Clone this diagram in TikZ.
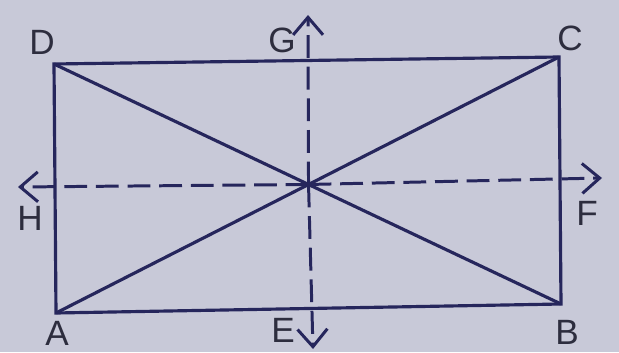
\documentclass[tikz,border=0pt]{standalone}
\usepackage{fontspec}
\setmainfont{Liberation Sans}
\usepackage{tikz}
\usetikzlibrary{arrows.meta,calc}
\usetikzlibrary{positioning}
\usepackage{xcolor}
\definecolor{papel}{RGB}{200,201,216}
\definecolor{tinta}{RGB}{38,38,92}
\definecolor{letra}{RGB}{45,45,62}

\begin{document}
\begin{tikzpicture}[
    >={Straight Barb[length=10pt,width=17pt]},
    lado/.style={draw=tinta, line width=1.8pt, line join=miter},
    eixo/.style={draw=tinta, line width=1.7pt, ->, dash pattern=on 13pt off 5pt},
    rotulo/.style={text=letra, font=\fontsize{20}{20}\selectfont, inner sep=0pt}
  ]

  % ── fundo ───────────────────────────────────────────────────────
  \fill[papel] (0,0) rectangle (12.38,7.04);
  \useasboundingbox (0,0) rectangle (12.38,7.04);

  % ── vértices do retângulo ───────────────────────────────────────
  \coordinate (A) at (1.12, 0.78);
  \coordinate (B) at (11.22, 0.96);
  \coordinate (C) at (11.18, 5.90);
  \coordinate (D) at (1.08, 5.76);
  \coordinate (O) at (intersection of A--C and B--D);

  % ── pontas dos eixos ────────────────────────────────────────────
  \coordinate (Gp) at (6.16, 6.74);
  \coordinate (Ep) at (6.26, 0.06);
  \coordinate (Hp) at (0.36, 3.30);
  \coordinate (Fp) at (12.04, 3.48);

  % ── retângulo e diagonais ───────────────────────────────────────
  \draw[lado] (A) -- (B) -- (C) -- (D) -- cycle;
  \draw[lado] (A) -- (C);
  \draw[lado] (B) -- (D);

  % ── eixos de simetria ───────────────────────────────────────────
  \draw[eixo] (O) -- (Gp);
  \draw[eixo] (O) -- (Ep);
  \draw[eixo] (O) -- (Hp);
  \draw[eixo] (O) -- (Fp);

  % ── rótulos ─────────────────────────────────────────────────────
  \node[rotulo] (lD) at (0.84, 6.20) {D};
  \node[rotulo] (lG) at (5.64, 6.24) {G};
  \node[rotulo] (lC) at (11.40, 6.28) {C};
  \node[rotulo] (lH) at (0.60, 2.68) {H};
  \node[rotulo] (lF) at (11.74, 2.78) {F};
  \node[rotulo] (lA) at (1.14, 0.38) {A};
  \node[rotulo] (lE) at (5.66, 0.44) {E};
  \node[rotulo] (lB) at (11.34, 0.40) {B};

\end{tikzpicture}
\end{document}
